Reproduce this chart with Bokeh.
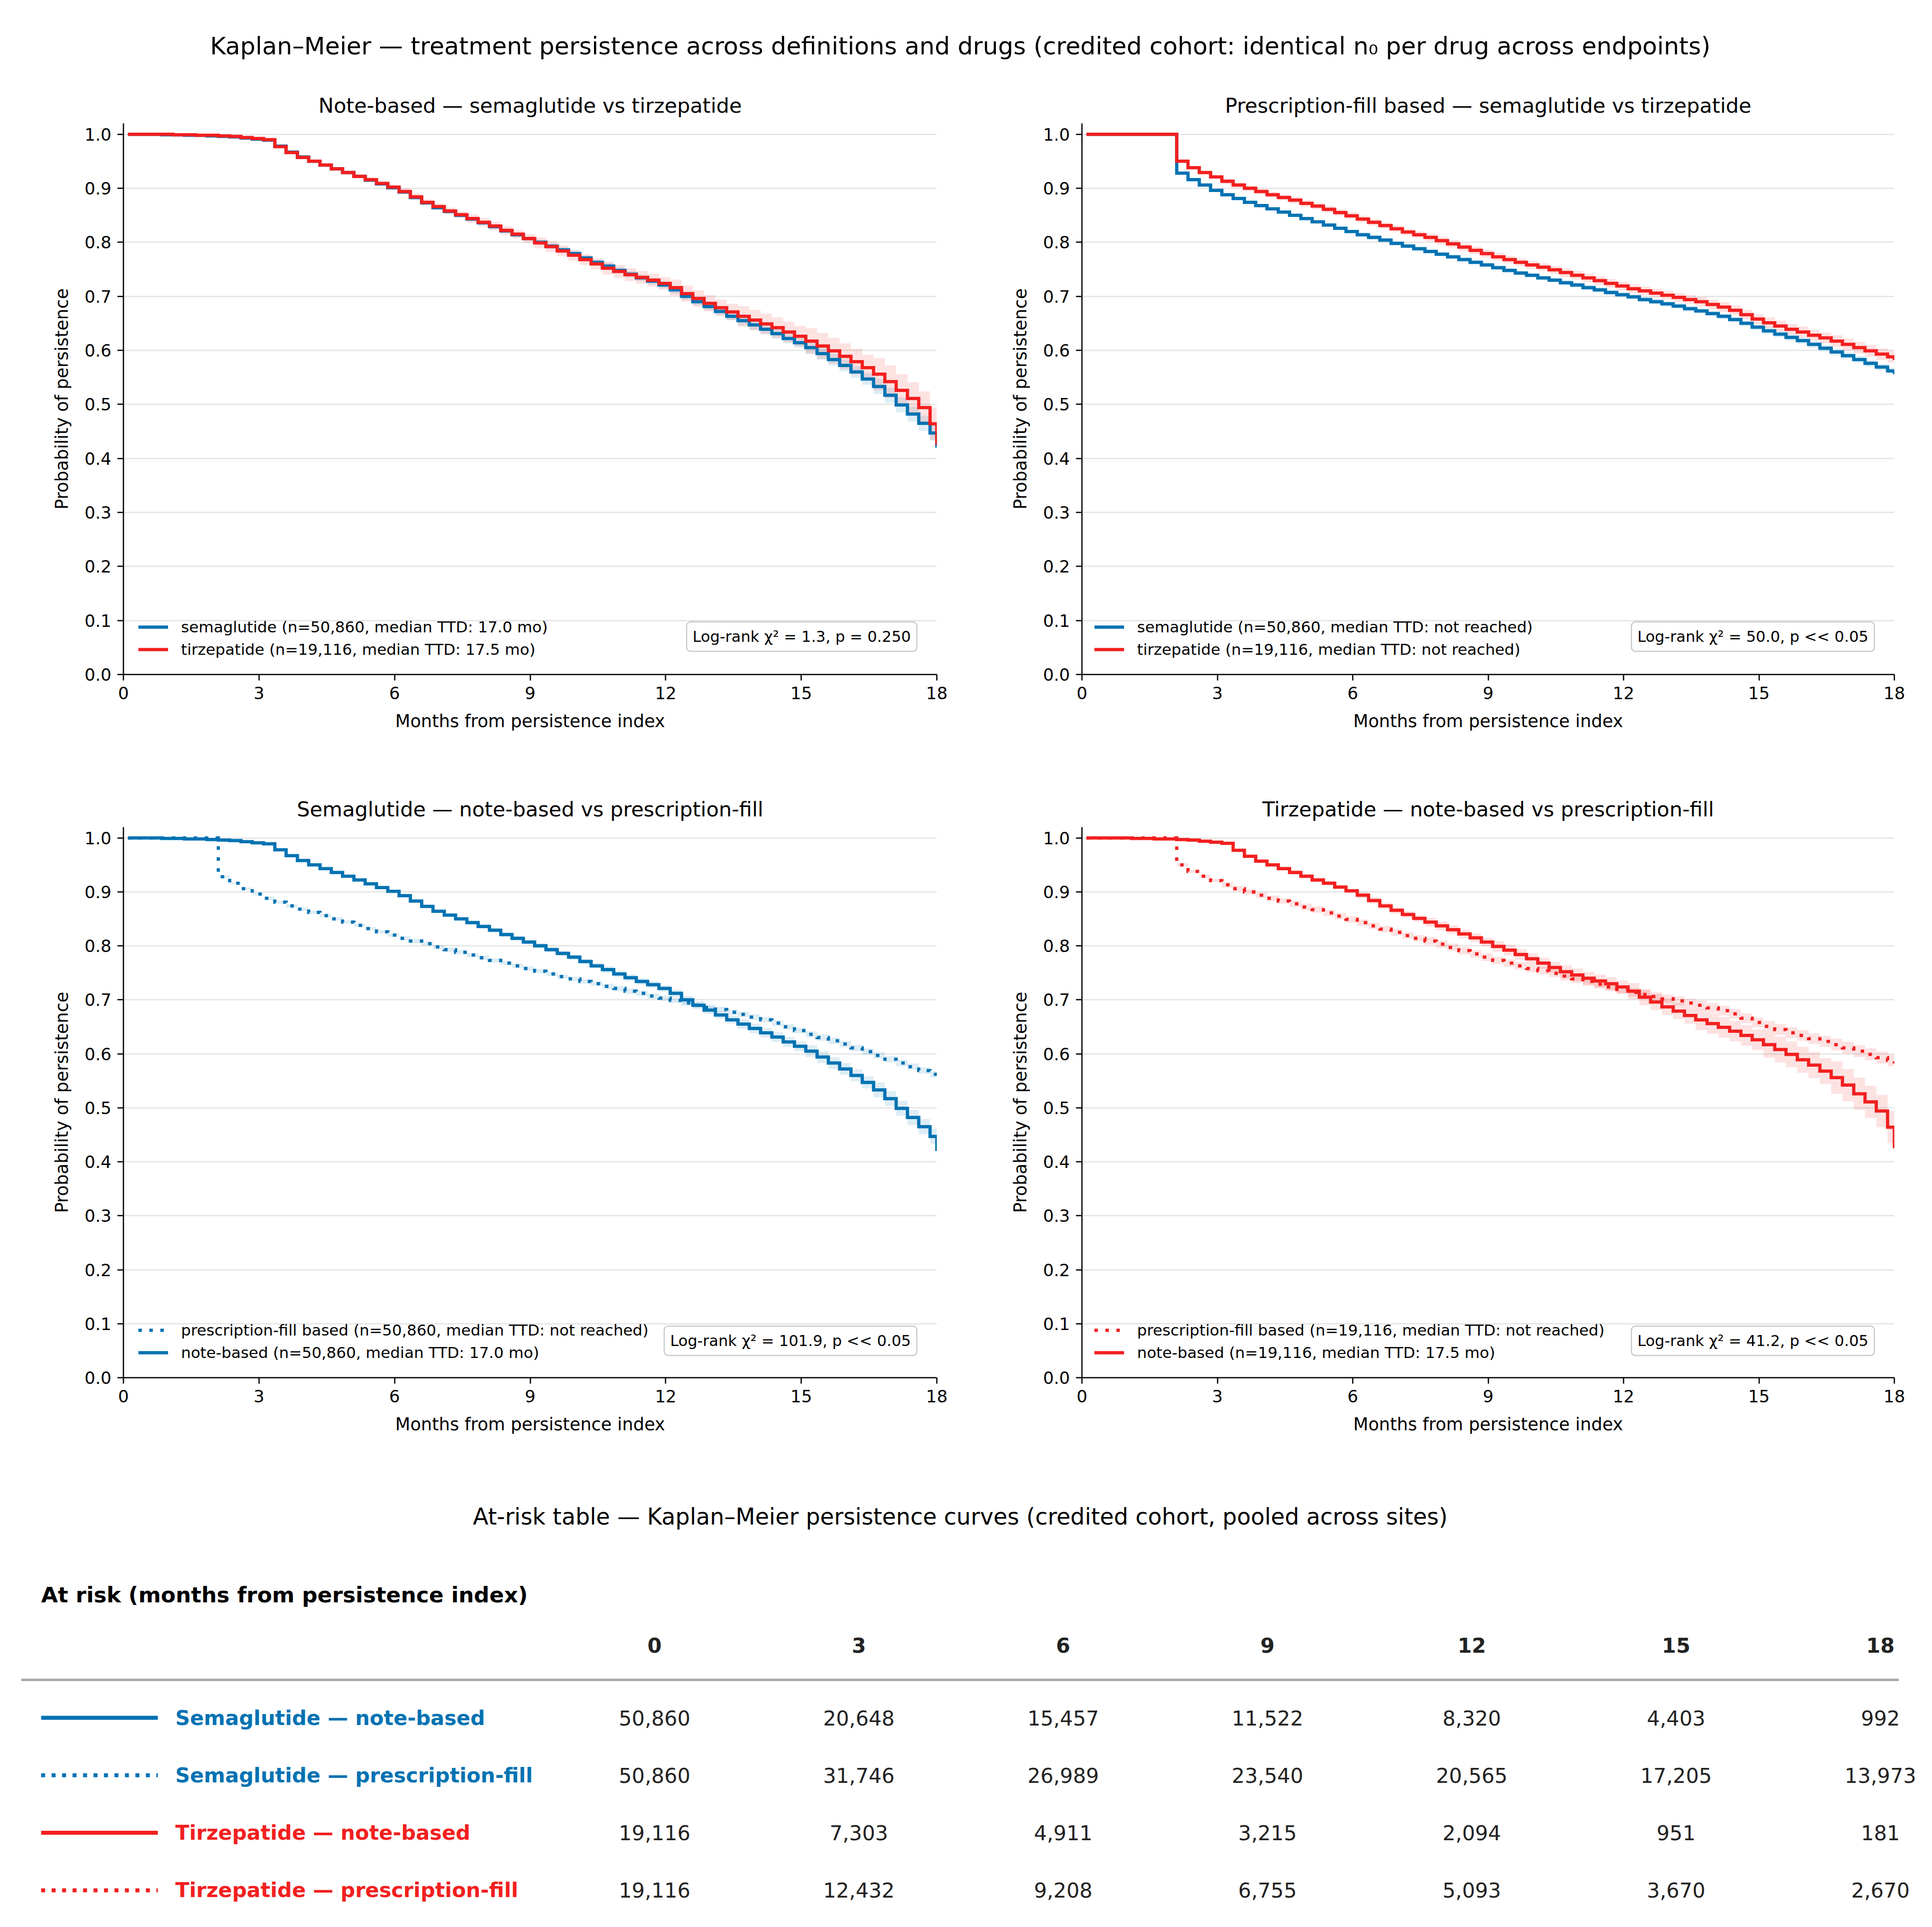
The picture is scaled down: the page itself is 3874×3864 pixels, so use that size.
from bokeh.plotting import figure
from bokeh.models import (Range1d, FixedTicker, PrintfTickFormatter, Legend,
                          LegendItem, Label)
from bokeh.layouts import column, row
from bokeh.embed import file_html
from bokeh.resources import INLINE
from bokeh.core.properties import value

FONT = "DejaVu Sans"
BLUE = "#0072B2"
RED = "#F21F1F"

# ---------------- data ----------------
TIMES = [0.1, 0.35, 0.6, 0.85, 1.1, 1.35, 1.6, 1.85, 2.1, 2.35, 2.6, 2.85,
         3.1, 3.35, 3.6, 3.85, 4.1, 4.35, 4.6, 4.85, 5.1, 5.35, 5.6, 5.85,
         6.1, 6.35, 6.6, 6.85, 7.1, 7.35, 7.6, 7.85, 8.1, 8.35, 8.6, 8.85,
         9.1, 9.35, 9.6, 9.85, 10.1, 10.35, 10.6, 10.85, 11.1, 11.35, 11.6, 11.85,
         12.1, 12.35, 12.6, 12.85, 13.1, 13.35, 13.6, 13.85, 14.1, 14.35, 14.6, 14.85,
         15.1, 15.35, 15.6, 15.85, 16.1, 16.35, 16.6, 16.85, 17.1, 17.35, 17.6, 17.85,
         18.0]

SEMA_NOTE = [1.0, 1.0, 1.0, 0.999, 0.999, 0.998, 0.998, 0.997, 0.996, 0.995, 0.993, 0.991, 0.989,
             0.978, 0.967, 0.958, 0.950, 0.943, 0.936, 0.929, 0.922, 0.915, 0.908, 0.901, 0.893,
             0.883, 0.873, 0.864, 0.857, 0.850, 0.843, 0.836, 0.829, 0.821, 0.814, 0.807, 0.800,
             0.793, 0.786, 0.779, 0.771, 0.763, 0.756, 0.748, 0.741, 0.734, 0.728, 0.721, 0.712,
             0.700, 0.690, 0.681, 0.672, 0.663, 0.655, 0.647, 0.639, 0.631, 0.622, 0.614, 0.605,
             0.594, 0.583, 0.572, 0.560, 0.547, 0.533, 0.517, 0.499, 0.482, 0.465, 0.447,
             0.420]

TIRZ_NOTE = [1.0, 1.0, 1.0, 1.0, 0.999, 0.999, 0.998, 0.998, 0.997, 0.996, 0.994, 0.992, 0.990,
             0.977, 0.966, 0.957, 0.950, 0.943, 0.936, 0.929, 0.922, 0.916, 0.909, 0.902, 0.894,
             0.884, 0.874, 0.866, 0.858, 0.851, 0.844, 0.837, 0.830, 0.822, 0.815, 0.807, 0.799,
             0.792, 0.784, 0.776, 0.768, 0.760, 0.752, 0.746, 0.740, 0.735, 0.730, 0.724, 0.716,
             0.705, 0.696, 0.687, 0.679, 0.671, 0.663, 0.656, 0.649, 0.642, 0.634, 0.626, 0.617,
             0.608, 0.599, 0.589, 0.579, 0.568, 0.556, 0.542, 0.526, 0.511, 0.494, 0.464,
             0.425]

SEMA_RX = [1.0, 1.0, 1.0, 1.0, 1.0, 1.0, 1.0, 1.0,
           0.928, 0.916, 0.906, 0.896, 0.888, 0.881, 0.874, 0.868, 0.862, 0.856, 0.850, 0.844,
           0.838, 0.832, 0.826, 0.820, 0.814, 0.809, 0.804, 0.798, 0.793, 0.788, 0.783, 0.778,
           0.773, 0.768, 0.763, 0.758, 0.753, 0.748, 0.743, 0.739, 0.734, 0.730, 0.725, 0.721,
           0.716, 0.712, 0.707, 0.703, 0.699, 0.694, 0.690, 0.686, 0.682, 0.677, 0.673, 0.668,
           0.663, 0.657, 0.650, 0.643, 0.636, 0.630, 0.624, 0.618, 0.611, 0.604, 0.597, 0.590,
           0.583, 0.576, 0.569, 0.562,
           0.556]

TIRZ_RX = [1.0, 1.0, 1.0, 1.0, 1.0, 1.0, 1.0, 1.0,
           0.950, 0.938, 0.929, 0.921, 0.913, 0.906, 0.900, 0.894, 0.888, 0.883, 0.878, 0.872,
           0.867, 0.861, 0.855, 0.849, 0.843, 0.837, 0.831, 0.825, 0.819, 0.814, 0.809, 0.803,
           0.797, 0.791, 0.785, 0.779, 0.773, 0.768, 0.763, 0.758, 0.754, 0.749, 0.744, 0.739,
           0.734, 0.729, 0.724, 0.719, 0.714, 0.710, 0.706, 0.702, 0.698, 0.694, 0.690, 0.685,
           0.680, 0.674, 0.666, 0.658, 0.651, 0.645, 0.639, 0.634, 0.628, 0.623, 0.617, 0.611,
           0.605, 0.599, 0.593, 0.588,
           0.582]

# CI half-widths, read at 1.5-month knots (0, 1.5, ..., 18)
CI_KNOT_STEP = 1.5
SEMA_NOTE_CI = [0.0, 0.0, 0.001, 0.002, 0.003, 0.004, 0.005, 0.006, 0.007, 0.009, 0.011, 0.014, 0.018]
TIRZ_NOTE_CI = [0.0, 0.0, 0.002, 0.004, 0.006, 0.008, 0.010, 0.012, 0.015, 0.019, 0.024, 0.030, 0.038]
SEMA_RX_CI = [0.0, 0.002, 0.003, 0.003, 0.004, 0.004, 0.004, 0.005, 0.005, 0.005, 0.006, 0.006, 0.007]
TIRZ_RX_CI = [0.0, 0.003, 0.005, 0.006, 0.006, 0.007, 0.007, 0.008, 0.008, 0.009, 0.010, 0.011, 0.012]

for arr in (SEMA_NOTE, TIRZ_NOTE, SEMA_RX, TIRZ_RX):
    assert len(arr) == len(TIMES), len(arr)

SUPTITLE = ("Kaplan\u2013Meier \u2014 treatment persistence across definitions and drugs "
            "(credited cohort: identical n\u2080 per drug across endpoints)")
TABLE_TITLE = ("At-risk table \u2014 Kaplan\u2013Meier persistence curves "
               "(credited cohort, pooled across sites)")
TABLE_HEADER = "At risk (months from persistence index)"

MONTHS = [0, 3, 6, 9, 12, 15, 18]
ROW_LABELS = ["Semaglutide \u2014 note-based", "Semaglutide \u2014 prescription-fill",
              "Tirzepatide \u2014 note-based", "Tirzepatide \u2014 prescription-fill"]
ROW_COLORS = [BLUE, BLUE, RED, RED]
ROW_DOTTED = [False, True, False, True]
AT_RISK = [[50860, 20648, 15457, 11522, 8320, 4403, 992],
           [50860, 31746, 26989, 23540, 20565, 17205, 13973],
           [19116, 7303, 4911, 3215, 2094, 951, 181],
           [19116, 12432, 9208, 6755, 5093, 3670, 2670]]

SERIES = {
    "sema_note": (SEMA_NOTE, SEMA_NOTE_CI, BLUE),
    "tirz_note": (TIRZ_NOTE, TIRZ_NOTE_CI, RED),
    "sema_rx": (SEMA_RX, SEMA_RX_CI, BLUE),
    "tirz_rx": (TIRZ_RX, TIRZ_RX_CI, RED),
}

PANELS = [
    dict(title="Note-based \u2014 semaglutide vs tirzepatide",
         series=["sema_note", "tirz_note"], dotted=[False, False],
         labels=["semaglutide (n=50,860, median TTD: 17.0 mo)",
                 "tirzepatide (n=19,116, median TTD: 17.5 mo)"],
         logrank="Log-rank \u03c7\u00b2 = 1.3, p = 0.250"),
    dict(title="Prescription-fill based \u2014 semaglutide vs tirzepatide",
         series=["sema_rx", "tirz_rx"], dotted=[False, False],
         labels=["semaglutide (n=50,860, median TTD: not reached)",
                 "tirzepatide (n=19,116, median TTD: not reached)"],
         logrank="Log-rank \u03c7\u00b2 = 50.0, p << 0.05"),
    dict(title="Semaglutide \u2014 note-based vs prescription-fill",
         series=["sema_rx", "sema_note"], dotted=[True, False],
         labels=["prescription-fill based (n=50,860, median TTD: not reached)",
                 "note-based (n=50,860, median TTD: 17.0 mo)"],
         logrank="Log-rank \u03c7\u00b2 = 101.9, p << 0.05"),
    dict(title="Tirzepatide \u2014 note-based vs prescription-fill",
         series=["tirz_rx", "tirz_note"], dotted=[True, False],
         labels=["prescription-fill based (n=19,116, median TTD: not reached)",
                 "note-based (n=19,116, median TTD: 17.5 mo)"],
         logrank="Log-rank \u03c7\u00b2 = 41.2, p << 0.05"),
]

LINE_W = 6.5
DOT = "7 15"


def step_band(times, surv, hw_knots):
    xs, lo, hi = [], [], []
    for i in range(len(times) - 1):
        hw = hw_knots[min(int(times[i] // CI_KNOT_STEP), len(hw_knots) - 1)]
        for t in (times[i], times[i + 1]):
            xs.append(t)
            lo.append(surv[i] - hw)
            hi.append(min(surv[i] + hw, 1.0))
    return xs, lo, hi


def make_panel(idx):
    cfg = PANELS[idx]
    left_col = idx % 2 == 0
    top_row = idx < 2
    if left_col:
        mbl, fw, mbr = 247, 1631, 59
        leg_x = 30
    else:
        mbl, fw, mbr = 232, 1629, 76
        leg_x = 25
    if top_row:
        mbt, fh, mbb = 97, 1105, 148
    else:
        mbt, fh, mbb = 158, 1104, 138

    p = figure(frame_width=fw, frame_height=fh,
               min_border_left=mbl, min_border_right=mbr,
               min_border_top=mbt, min_border_bottom=mbb,
               x_range=Range1d(0, 18), y_range=Range1d(0, 1.02),
               output_backend="svg", toolbar_location=None, tools="")
    p.outline_line_color = None
    p.background_fill_color = "white"
    p.border_fill_color = "white"

    p.title.text = cfg["title"]
    p.title.align = "center"
    p.title.text_font = FONT
    p.title.text_font_size = "41px"
    p.title.text_font_style = "normal"
    p.title.text_color = "black"
    p.title.standoff = 24

    p.xaxis.ticker = FixedTicker(ticks=MONTHS)
    p.yaxis.ticker = FixedTicker(ticks=[0.0, 0.1, 0.2, 0.3, 0.4, 0.5, 0.6, 0.7, 0.8, 0.9, 1.0])
    p.yaxis.formatter = PrintfTickFormatter(format="%.1f")
    p.xaxis.axis_label = "Months from persistence index"
    p.yaxis.axis_label = "Probability of persistence"
    for ax in (p.xaxis, p.yaxis):
        ax.axis_label_text_font = FONT
        ax.axis_label_text_font_size = "35px"
        ax.axis_label_text_font_style = "normal"
        ax.axis_label_text_color = "black"
        ax.major_label_text_font = FONT
        ax.major_label_text_font_size = "34px"
        ax.major_label_text_color = "black"
        ax.axis_line_width = 2.5
        ax.axis_line_color = "black"
        ax.major_tick_line_width = 2.5
        ax.major_tick_line_color = "black"
        ax.major_tick_out = 12
        ax.major_tick_in = 0
        ax.minor_tick_line_color = None
        ax.major_label_standoff = 12
    p.xaxis.axis_label_standoff = 21
    p.yaxis.axis_label_standoff = 22

    p.xgrid.grid_line_color = None
    p.ygrid.grid_line_color = "#e4e4e4"
    p.ygrid.grid_line_width = 2.5

    # bands first
    for key in cfg["series"]:
        surv, ci, color = SERIES[key]
        xs, lo, hi = step_band(TIMES, surv, ci)
        p.varea(x=xs, y1=lo, y2=hi, fill_color=color, fill_alpha=0.13)

    items = []
    for key, lab, dotted in zip(cfg["series"], cfg["labels"], cfg["dotted"]):
        surv, ci, color = SERIES[key]
        r = p.step(x=TIMES, y=surv, mode="after", line_color=color,
                   line_width=LINE_W, line_dash=DOT if dotted else "solid",
                   line_join="miter")
        items.append(LegendItem(label=lab, renderers=[r]))

    legend = Legend(items=items, location=(leg_x, 32),
                    label_text_font=FONT, label_text_font_size="31px",
                    label_text_color="black",
                    glyph_width=60, glyph_height=30, label_height=30,
                    label_standoff=26, spacing=9, padding=0, margin=0,
                    border_line_color=None, background_fill_alpha=0)
    p.add_layout(legend, "center")

    lbl = Label(x=fw - 40, y=76 if top_row else 74,
                x_units="screen", y_units="screen",
                text=cfg["logrank"], text_font=FONT, text_font_size="30.5px",
                text_color="black", text_align="right", text_baseline="middle",
                border_line_color="#cccccc", border_line_width=2.5,
                background_fill_color="white", background_fill_alpha=0.9,
                padding=12, border_radius=8)
    p.add_layout(lbl)
    return p


# ---------------- suptitle ----------------
W = 3874
sup = figure(width=W, height=150, x_range=Range1d(0, W), y_range=Range1d(150, 0),
             x_axis_type=None, y_axis_type=None, min_border=0,
             output_backend="svg", toolbar_location=None, tools="")
sup.outline_line_color = None
sup.text(x=[1925], y=[91], text=[SUPTITLE], text_align="center",
         text_baseline="middle", text_font=value(FONT), text_font_size="48.3px",
         text_color="black")

panels = [make_panel(i) for i in range(4)]

# ---------------- at-risk table ----------------
TH = 964
PX_PER_MONTH = 136.56
X0 = -1312 / PX_PER_MONTH


def tx(px):
    return X0 + px / PX_PER_MONTH


tbl = figure(width=W, height=TH, x_range=Range1d(X0, X0 + W / PX_PER_MONTH),
             y_range=Range1d(TH, 0), x_axis_type=None, y_axis_type=None,
             min_border=0, output_backend="svg", toolbar_location=None, tools="")
tbl.outline_line_color = None

tbl.text(x=[tx(1925)], y=[141], text=[TABLE_TITLE], text_align="center",
         text_baseline="middle", text_font=value(FONT), text_font_size="45.4px",
         text_color="black")
tbl.text(x=[tx(82)], y=[297], text=[TABLE_HEADER], text_align="left",
         text_baseline="middle", text_font=value(FONT), text_font_size="43.3px",
         text_font_style="bold", text_color="black")
tbl.text(x=MONTHS, y=[398] * len(MONTHS), text=[str(m) for m in MONTHS],
         text_align="center", text_baseline="middle", text_font=value(FONT),
         text_font_size="41px", text_font_style="bold", text_color="#222222")
tbl.segment(x0=[tx(42)], y0=[468], x1=[tx(3807)], y1=[468],
            line_color="#aaaaaa", line_width=5)

ROW_Y0 = 544
ROW_PITCH = 115.3
for i, (lab, col, dotted, vals) in enumerate(zip(ROW_LABELS, ROW_COLORS, ROW_DOTTED, AT_RISK)):
    y = ROW_Y0 + i * ROW_PITCH
    tbl.line(x=[tx(82), tx(316)], y=[y, y], line_color=col, line_width=8,
             line_dash="8 13" if dotted else "solid")
    tbl.text(x=[tx(351)], y=[y], text=[lab], text_align="left",
             text_baseline="middle", text_font=value(FONT), text_font_size="41px",
             text_font_style="bold", text_color=col)
    tbl.text(x=MONTHS, y=[y] * len(MONTHS), text=[f"{v:,}" for v in vals],
             text_align="center", text_baseline="middle", text_font=value(FONT),
             text_font_size="41px", text_color="#222222")

layout = column(sup, row(panels[0], panels[1]), row(panels[2], panels[3]), tbl)

open("out.html", "w").write(file_html(layout, INLINE))
